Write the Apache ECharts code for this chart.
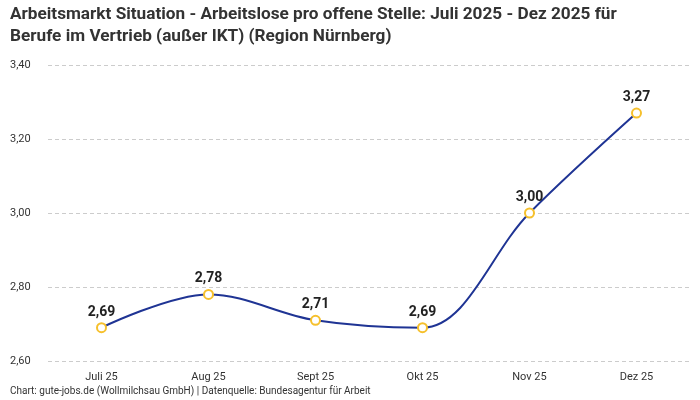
<!DOCTYPE html>
<html><head><meta charset="utf-8">
<script src="https://cdn.jsdelivr.net/npm/echarts@6/dist/echarts.min.js"></script>
<style>html,body{margin:0;padding:0;background:#fff}#c{width:700px;height:400px}</style>
</head><body><div id="c"></div>
<script>
const titleText = 'Arbeitsmarkt Situation - Arbeitslose pro offene Stelle: Juli 2025 - Dez 2025 für\nBerufe im Vertrieb (außer IKT) (Region Nürnberg)';
const footerText = 'Chart: gute-jobs.de (Wollmilchsau GmbH) | Datenquelle: Bundesagentur für Arbeit';
const categories = ['Juli 25', 'Aug 25', 'Sept 25', 'Okt 25', 'Nov 25', 'Dez 25'];
const values = [2.69, 2.78, 2.71, 2.69, 3.00, 3.27];
const yTicks = { min: 2.6, max: 3.4, interval: 0.2 };
const fmt = v => v.toFixed(2).replace('.', ',');
const chart = echarts.init(document.getElementById('c'), null, {renderer: 'canvas'});
chart.setOption({
  animation: false,
  title: [{
    text: titleText, left: 5, top: -1,
    textStyle: {fontFamily: 'Liberation Sans Narrow, Roboto, sans-serif', fontWeight: 'bold', fontSize: 17.2, color: '#333', lineHeight: 22}
  }, {
    text: footerText, left: 5, top: 381,
    textStyle: {fontFamily: 'Roboto, sans-serif', fontWeight: 'normal', fontSize: 10, color: '#333'}
  }],
  grid: {left: 48, right: 10, top: 65, bottom: 39, containLabel: false},
  xAxis: {
    type: 'category', data: categories, boundaryGap: true,
    axisLine: {show: false}, axisTick: {show: false},
    axisLabel: {color: '#333', fontSize: 11, fontFamily: 'Roboto, sans-serif', margin: 11}
  },
  yAxis: {
    type: 'value', min: yTicks.min, max: yTicks.max, interval: yTicks.interval,
    axisLabel: {color: '#333', fontSize: 11, fontFamily: 'Roboto, sans-serif', formatter: fmt, align: 'left', margin: 38},
    splitLine: {lineStyle: {color: '#ccc', type: [4, 3]}}
  },
  series: [{
    type: 'line', data: values, smooth: 0.35,
    lineStyle: {color: '#1f3494', width: 2},
    itemStyle: {color: '#fff', borderColor: '#f6c02c', borderWidth: 2},
    symbol: 'circle', symbolSize: 9, showAllSymbol: true,
    label: {show: true, position: 'top', distance: 3, formatter: p => fmt(p.value),
      fontFamily: 'Roboto, sans-serif', fontWeight: 'bold', fontSize: 14, color: '#222'}
  }]
});
</script></body></html>
